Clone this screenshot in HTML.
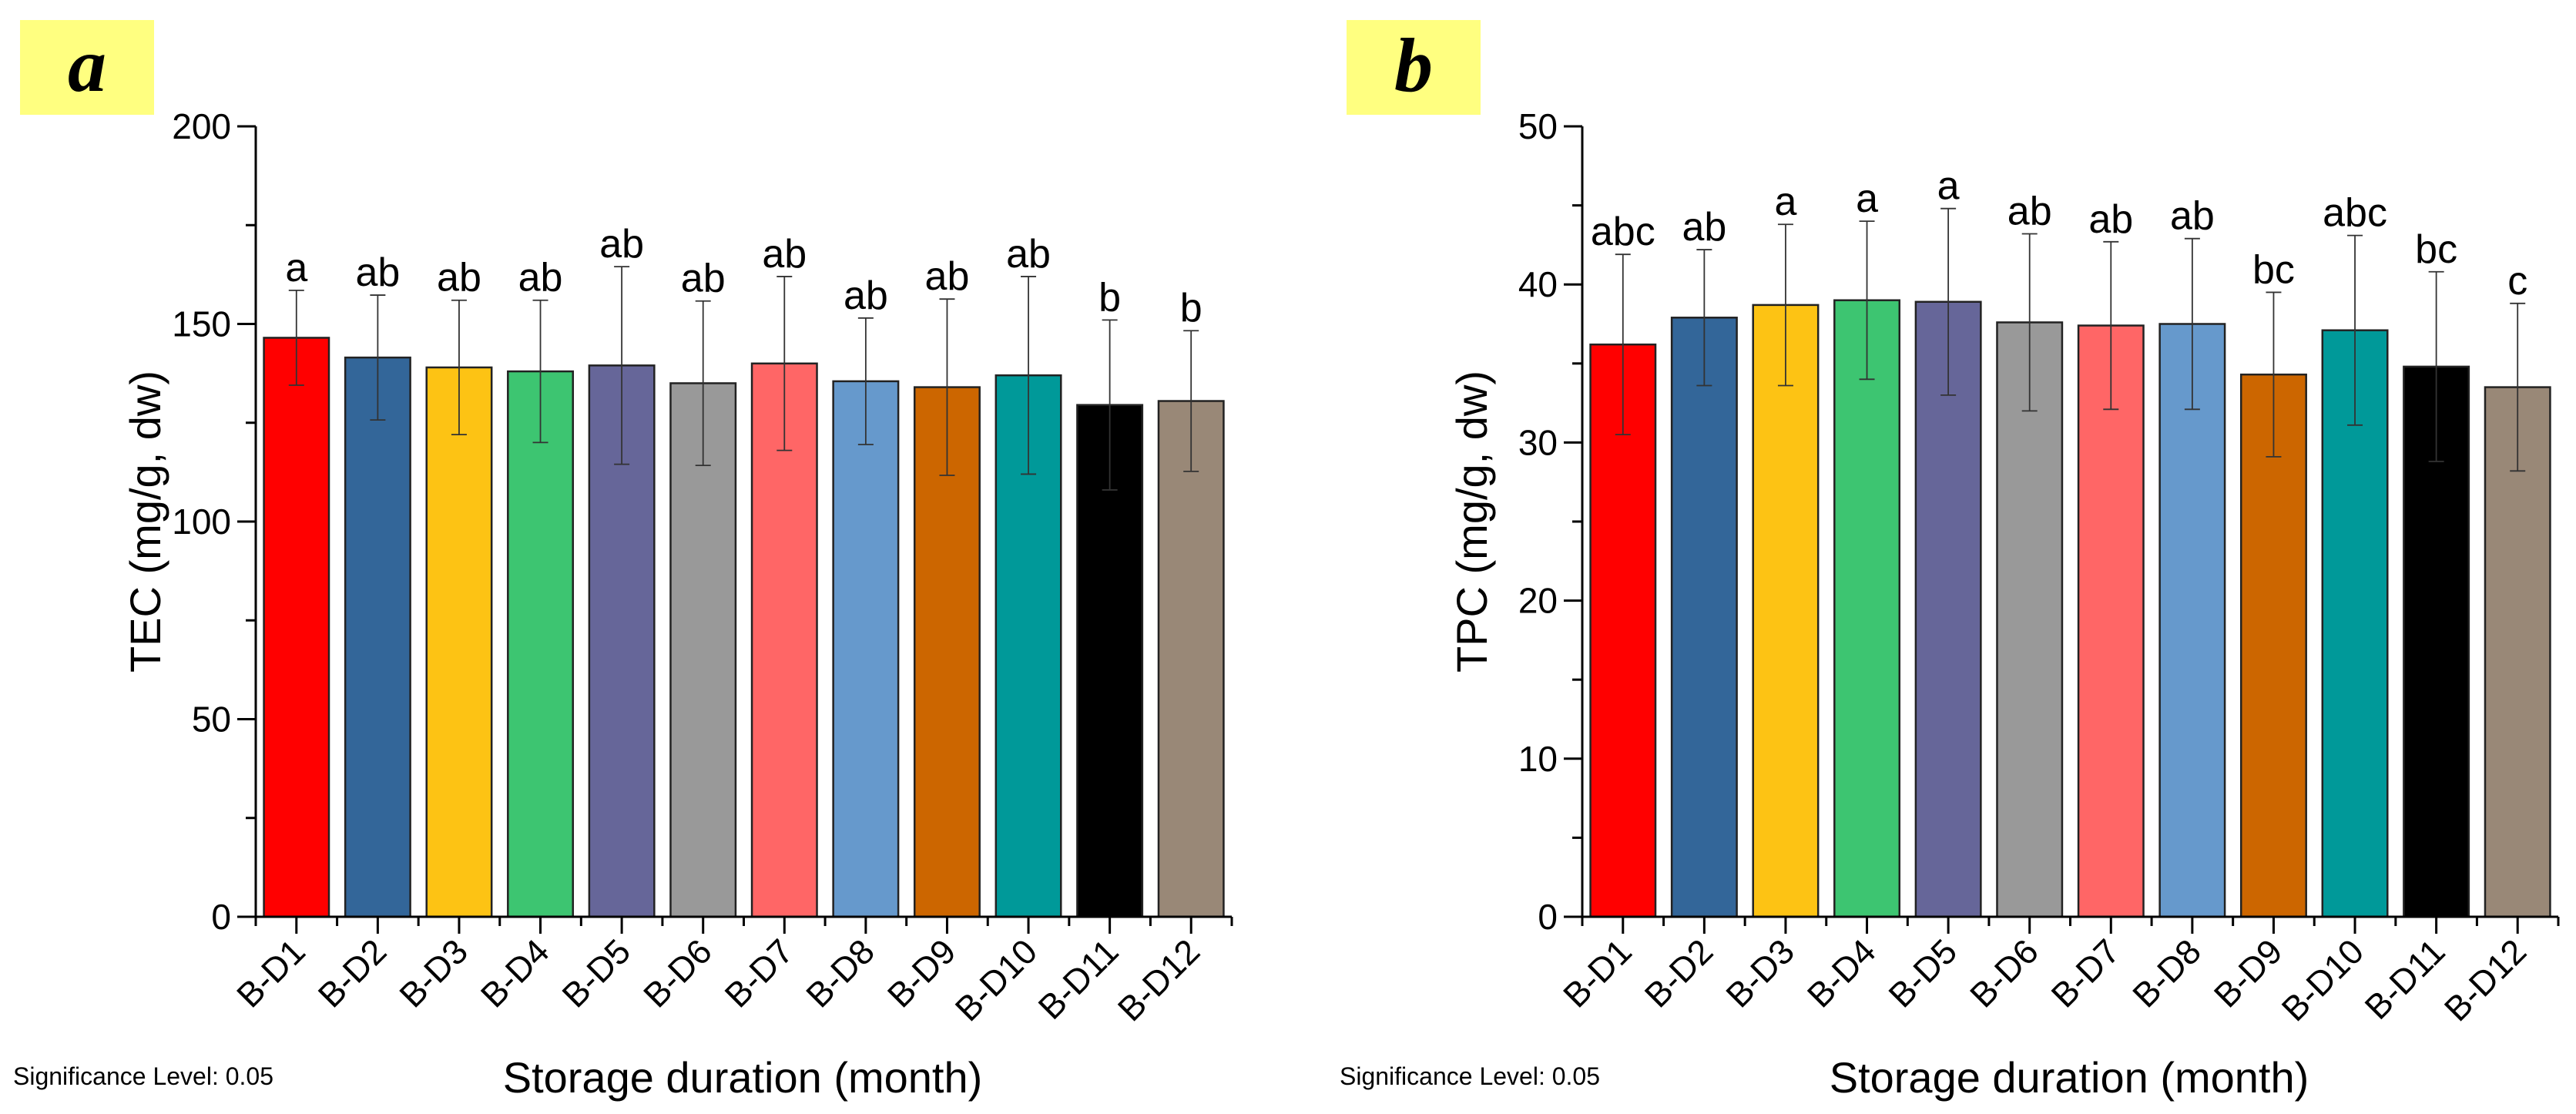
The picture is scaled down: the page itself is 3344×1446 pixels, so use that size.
<!DOCTYPE html>
<html><head><meta charset="utf-8"><style>
html,body{margin:0;padding:0;background:#fff;}
svg{display:block;}
text{font-family:"Liberation Sans",Arial,sans-serif;}
</style></head><body>
<svg id="fig" width="3344" height="1446" viewBox="0 0 3344 1446" xmlns="http://www.w3.org/2000/svg"></svg>
<script>
const categories = ["B-D1","B-D2","B-D3","B-D4","B-D5","B-D6","B-D7","B-D8","B-D9","B-D10","B-D11","B-D12"];
const tecValues = [146.5,141.5,139,138,139.5,135,140,135.5,134,137,129.5,130.5];
const tecErrors = [12,15.8,17,18,25,20.8,22,16,22.3,25,21.5,17.8];
const tecLetters = ["a","ab","ab","ab","ab","ab","ab","ab","ab","ab","b","b"];
const tecTicks = [0,50,100,150,200];
const tpcValues = [36.2,37.9,38.7,39,38.9,37.6,37.4,37.5,34.3,37.1,34.8,33.5];
const tpcErrors = [5.7,4.3,5.1,5,5.9,5.6,5.3,5.4,5.2,6,6,5.3];
const tpcLetters = ["abc","ab","a","a","a","ab","ab","ab","bc","abc","bc","c"];
const tpcTicks = [0,10,20,30,40,50];
const colors = ["#FF0000","#336699","#FDC314","#3DC571","#666699","#999999","#FF6666","#6699CC","#CC6600","#009999","#000000","#998877"];

const NS="http://www.w3.org/2000/svg";
const svg=document.getElementById('fig');
function mk(tag,attrs,parent,txt){const e=document.createElementNS(NS,tag);for(const k in attrs)e.setAttribute(k,attrs[k]);if(txt!==undefined)e.textContent=txt;(parent||svg).appendChild(e);return e;}

function panel(off,letter,values,errors,letters,ticks,ymax,minorStep,ytitle,pname){
  const g=mk('g',{});
  
  
  const x0=332+off,x1=1599+off,yTop=164,yBot=1190;
  const n=categories.length,band=(x1-x0)/n;
  const X=i=>x0+band*(i+0.5);
  const Y=v=>yBot-(v/ymax)*(yBot-yTop);
  const lb=mk('rect',{x:26+off,y:26,width:174,height:123,fill:'#FFFF80'},g);
  
  
  const lt=mk('text',{x:113+off,y:118,'text-anchor':'middle','font-size':100,'font-weight':'bold','font-style':'italic',style:'font-family:"Liberation Serif",serif'},g,letter);
  
  
  values.forEach((v,i)=>{
    const bw=band*0.8;
    const r=mk('rect',{x:X(i)-bw/2,y:Y(v),width:bw,height:yBot-Y(v),fill:colors[i],stroke:'#222',"stroke-width":2.5},g);
    
    
    const e=errors[i],t=Y(v+e),b=Y(v-e);
    const eg=mk('g',{stroke:'#333','stroke-width':1.8},g);
    
    
    mk('line',{x1:X(i),x2:X(i),y1:t,y2:b},eg);
    mk('line',{x1:X(i)-10,x2:X(i)+10,y1:t,y2:t},eg);
    mk('line',{x1:X(i)-10,x2:X(i)+10,y1:b,y2:b},eg);
    const st=mk('text',{x:X(i),y:t-12,'text-anchor':'middle','font-size':52},g,letters[i]);
    
    
  });
  const ax=mk('g',{stroke:'#000','stroke-width':3,fill:'none'},g);
  
  
  mk('polyline',{points:`${x0},${yTop} ${x0},${yBot} ${x1},${yBot}`},ax);
  for(let v=0;v<=ymax+1e-9;v+=minorStep){
    const major=ticks.some(t=>Math.abs(t-v)<1e-9);
    mk('line',{x1:x0-(major?24:13),x2:x0,y1:Y(v),y2:Y(v)},ax);
  }
  ticks.forEach(t=>{
    const tl=mk('text',{x:x0-32,y:Y(t)+16,'text-anchor':'end','font-size':46},g,String(t));
    
    
  });
  for(let i=0;i<=n;i++){ mk('line',{x1:x0+band*i,x2:x0+band*i,y1:yBot,y2:yBot+12},ax); }
  categories.forEach((c,i)=>{
    mk('line',{x1:X(i),x2:X(i),y1:yBot,y2:yBot+22},ax);
    const xl=mk('text',{x:X(i)+14,y:yBot+48,'text-anchor':'end','font-size':45,transform:`rotate(-45 ${X(i)+14} ${yBot+48})`},g,c);
    
    
  });
  const yt=mk('text',{x:0,y:0,'text-anchor':'middle','font-size':56,transform:`translate(${208+off},${(yTop+yBot)/2}) rotate(-90)`},g,ytitle);
  
  
  const xt=mk('text',{x:964+off,y:1418,'text-anchor':'middle','font-size':56},g,'Storage duration (month)');
  
  
  const sg=mk('text',{x:17+off,y:1408,'font-size':32},g,'Significance Level: 0.05');
  
  
}
panel(0,'a',tecValues,tecErrors,tecLetters,tecTicks,200,25,'TEC (mg/g, dw)','panel-a-tec-chart');
panel(1722,'b',tpcValues,tpcErrors,tpcLetters,tpcTicks,50,5,'TPC (mg/g, dw)','panel-b-tpc-chart');
</script>
</body></html>
